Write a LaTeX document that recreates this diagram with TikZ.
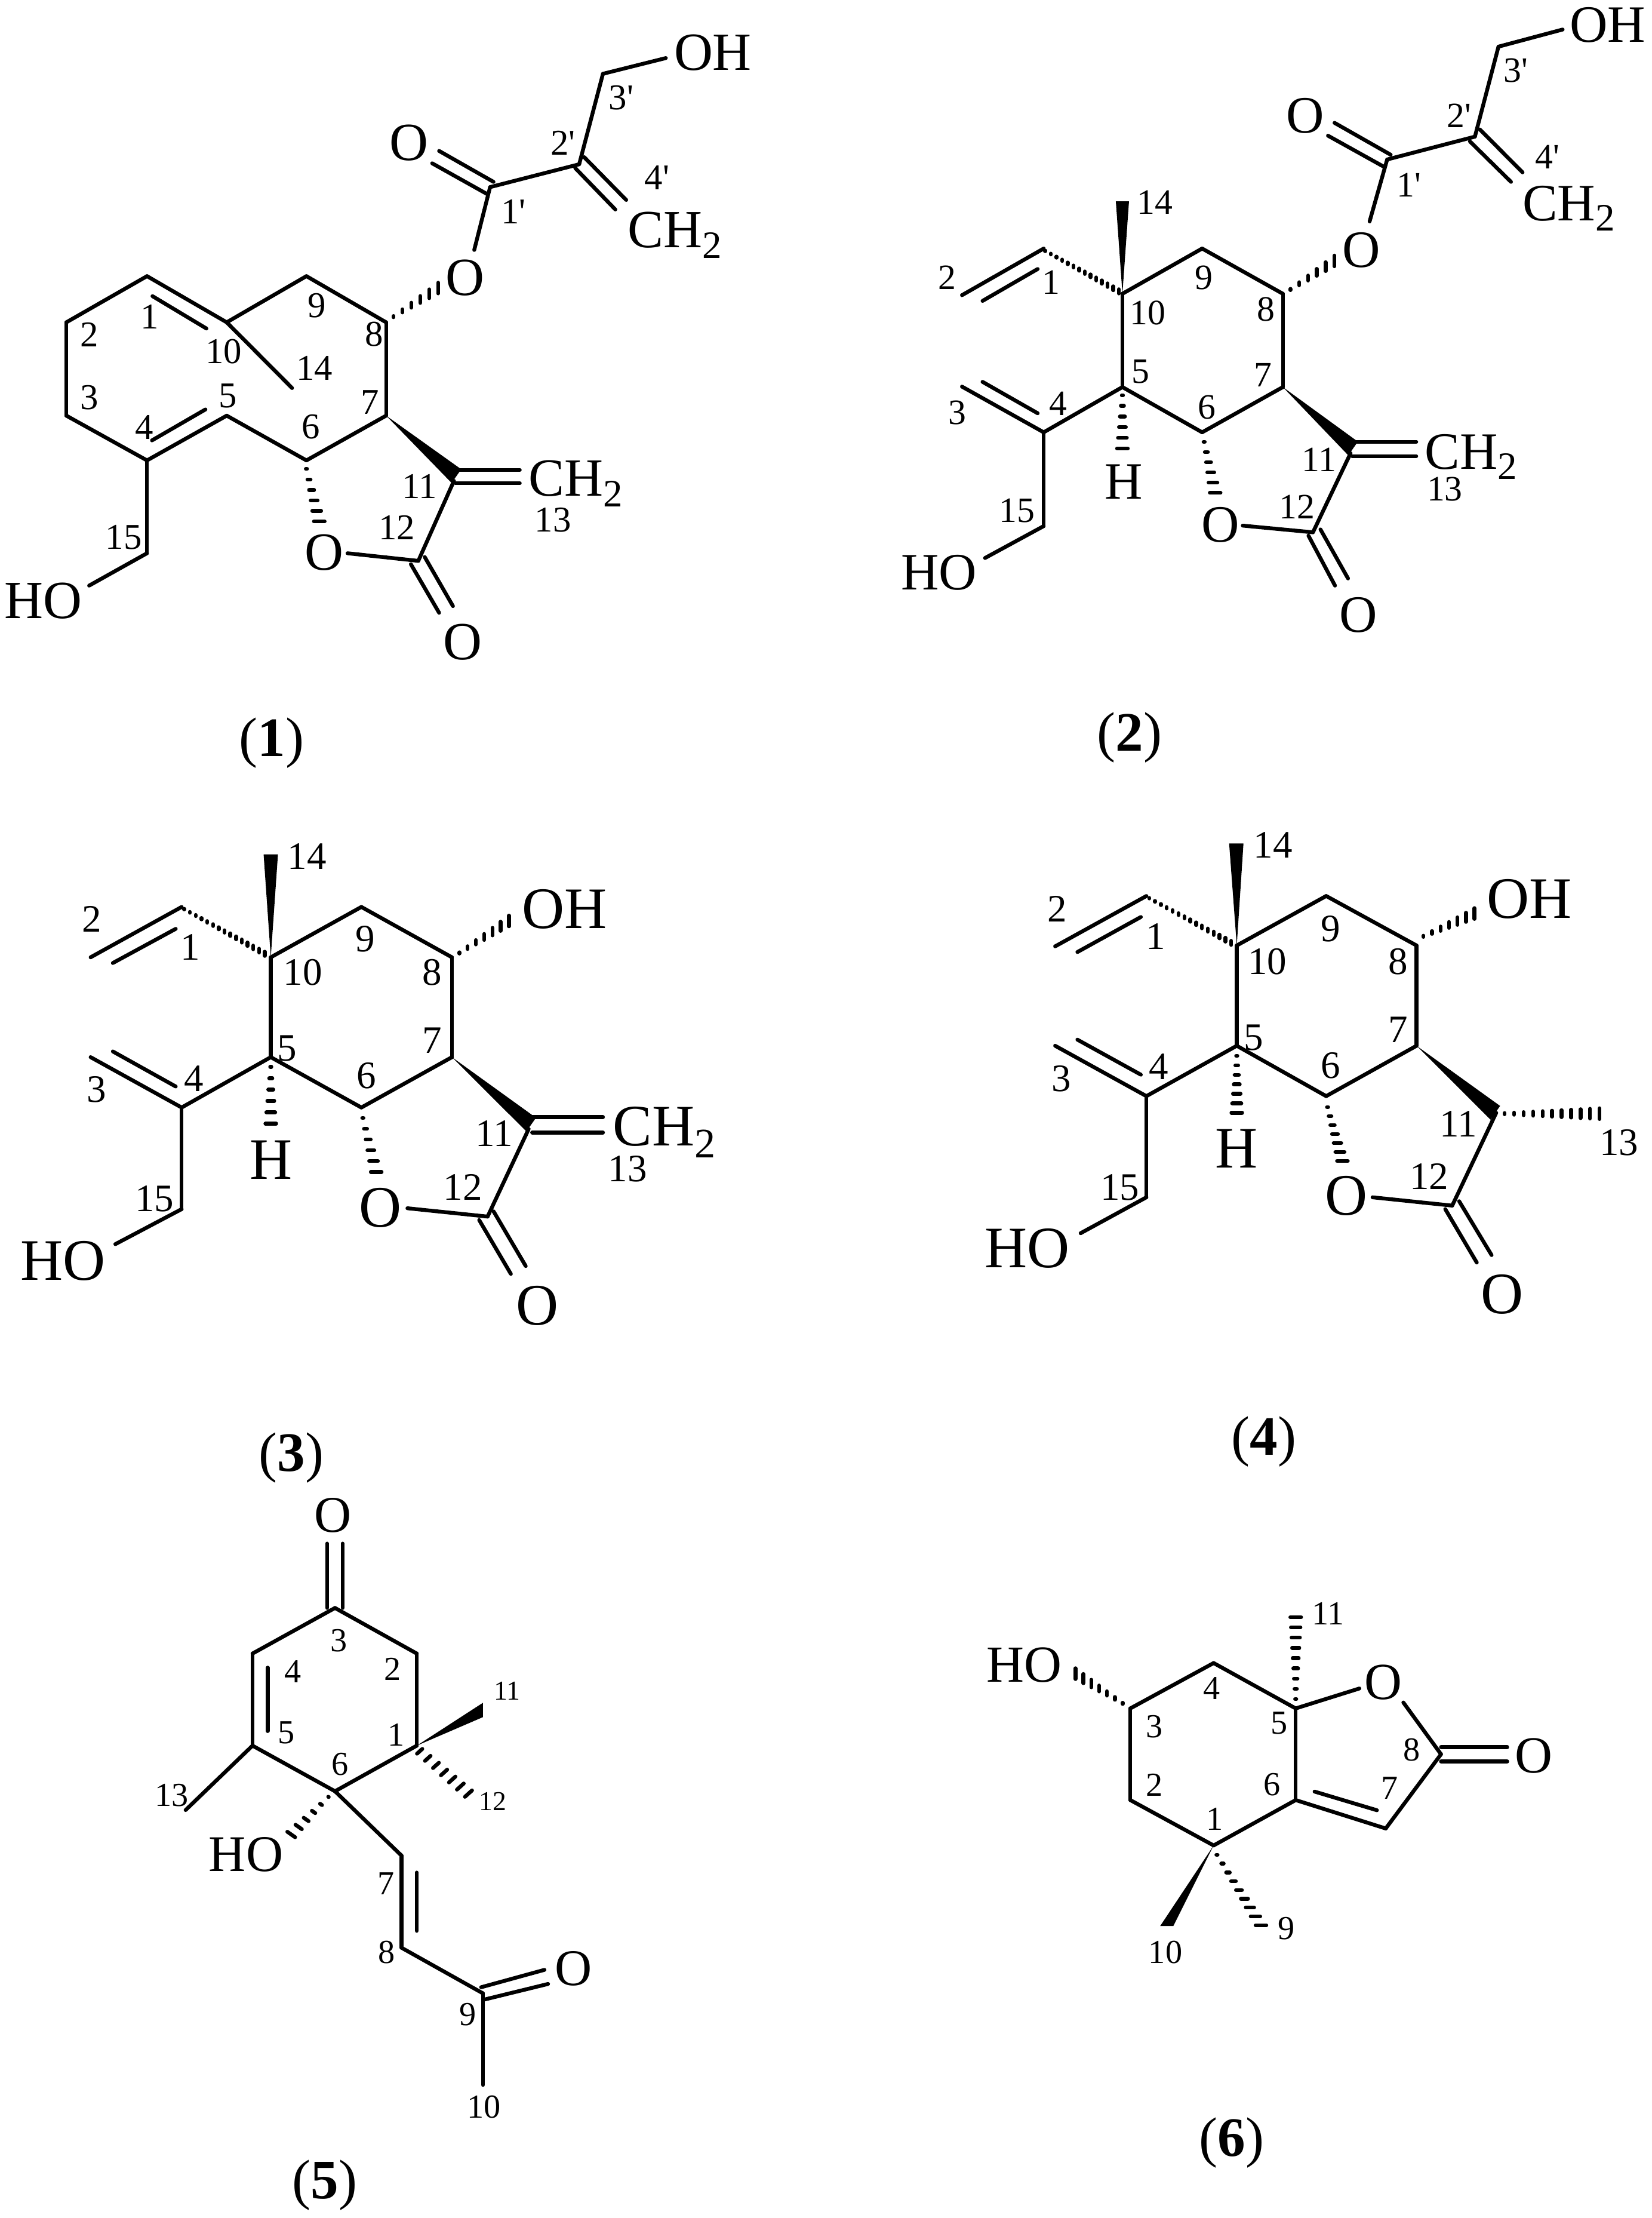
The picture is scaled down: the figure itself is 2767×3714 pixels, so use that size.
\documentclass[tikz,border=0pt]{standalone}
\usepackage{fontspec}
\usetikzlibrary{calc}
\newfontfamily\chemfont{Liberation Serif}
\def\atomsize{25.6}
\def\labsize{17.3}
\newcommand{\chtwo}{CH\raisebox{-0.2em}{\fontsize{\atomsubsize}{\atomsubsize}\selectfont 2}}
\def\atomsubsize{18.5}
\tikzset{
  bondline/.style={line width=0.64mm,line cap=round,line join=round,draw=black},
  hashbar/.style={line width=0.64mm,line cap=round,draw=black},
  atomtext/.style={inner sep=0pt,outer sep=0pt,text=black,font=\chemfont\fontsize{\atomsize}{\atomsize}\selectfont},
  numtext/.style={inner sep=0pt,outer sep=0pt,text=black,font=\chemfont\fontsize{\labsize}{\labsize}\selectfont},
  captext/.style={inner sep=0pt,outer sep=0pt,text=black,font=\chemfont\fontsize{\atomsize}{\atomsize}\selectfont},
}
% bonds between named coordinates
\newcommand{\pts}[1]{\foreach \n/\xx/\yy in {#1} {\coordinate (\pre\n) at (\xx,\yy);}}
\newcommand{\bonds}[1]{\foreach \p/\q in {#1} {\draw[bondline] (\pre\p) -- (\pre\q);}}
% hashed wedge: from, to, bars, half width start (px), half width end (px), bar angle
\newcommand{\hashw}[6]{%
  \foreach \i in {1,...,#3} {%
    \pgfmathsetmacro{\t}{(\i-1)/(#3-1)}%
    \pgfmathsetmacro{\w}{(#4+(#5-#4)*\t)*0.2845}%
    \draw[hashbar] ($(\pre#1)!\t!(\pre#2)+(#6:\w pt)$) -- ($(\pre#1)!\t!(\pre#2)+({#6+180}:\w pt)$);
  }}
% solid wedge: narrow end, wide end, half width (px), angle of wide edge
\newcommand{\solidw}[4]{%
  \pgfmathsetmacro{\w}{#3*0.2845}%
  \fill[black] (\pre#1) -- ($(\pre#2)+(#4:\w pt)$) -- ($(\pre#2)+({#4+180}:\w pt)$) -- cycle;}
% labels
\newcommand{\nums}[1]{\foreach \n/\xx/\yy in {#1} {\node[numtext] (\pre n\n) at (\xx,\yy) {\n};}}
\begin{document}
\begin{tikzpicture}[x=0.1mm,y=-0.1mm]
\useasboundingbox (0,0) rectangle (2767,3714);
\fill[white] (0,0) rectangle (2767,3714);

%%%%%%%% Compound 1
\begin{scope}[x=0.08292mm,y=-0.07972mm]
\def\pre{a}
\def\atomsize{25.6}\def\labsize{17.3}
\pts{c1/297/580,c2/134/677,c3/134/873,c4/297/967,c5/458/873,c10/458/677,c9/619/580,c8/780/677,c7/780/873,c6/619/967,
 i5a/307/925,i5b/415/860,i1a/308/622,i1b/417/690,m14/590/815,c15/297/1162,oh15/180/1230,
 h6a/619/985,h6b/645/1095,o1r/702/1162,c12/845/1178,d1a/830/1185,d1b/887/1287,d2a/858/1170,d2b/915/1273,c11/917/1010,w11/922/1000,
 e1a/920/987,e1b/1050/987,e2a/920/1015,e2b/1050/1015,h8a/795/665,h8b/885/605,oe1/958/525,cp1/990/393,
 f1a/887/317,f1b/997/382,f2a/873/343,f2b/983/407,cp2/1170/345,g1a/1180/330,g1b/1265/420,g2a/1162/353,g2b/1243/440,cp3/1218/155,ohp/1345/122}
\bonds{c1/c2,c2/c3,c3/c4,c4/c5,i5a/i5b,c5/c6,c6/c7,c7/c8,c8/c9,c9/c10,c10/c1,i1a/i1b,c10/m14,c4/c15,c15/oh15,o1r/c12,d1a/d1b,d2a/d2b,c12/c11,e1a/e1b,e2a/e2b,oe1/cp1,f1a/f1b,f2a/f2b,cp1/cp2,g1a/g1b,g2a/g2b,cp2/cp3,cp3/ohp}
\hashw{h6a}{h6b}{6}{1}{9}{0}
\hashw{h8a}{h8b}{6}{1}{9}{90}
\solidw{c7}{w11}{14}{55}
\node[atomtext] (aHO) at (88,1262) {HO};
\node[atomtext] (aO1) at (655,1160) {O};
\node[atomtext] (aO2) at (935,1348) {O};
\node[atomtext] (aO3) at (940,583) {O};
\node[atomtext] (aO4) at (826,300) {O};
\node[atomtext] (aOH) at (1440,110) {OH};
\node[atomtext,anchor=base west] (aCa) at (1068,1042) {\chtwo};
\node[atomtext,anchor=base west] (aCb) at (1268,520) {\chtwo};
\nums{1/302/665,2/180/703,3/180/835,4/292/898,5/460/832,6/628/897,7/747/845,8/756/702,9/640/642,10/452/738,11/847/1022,12/802/1108,13/1117/1092,14/635/773,15/250/1128,1'/1037/445,2'/1137/300,3'/1255/205,4'/1327/373}
\end{scope}

%%%%%%%% Compound 2
\begin{scope}[shift={(145mm,0mm)},x=0.08399mm,y=-0.07972mm]
\def\pre{b}
\def\atomsize{25}\def\labsize{17}
\pts{c10/512/617,c9/671/522,c8/832/617,c7/832/813,c6/671/908,c5/512/813,c1/355/522,c2/192/620,i1a/233/632,i1b/343/565,
 hh1/358/527,hh2/505/612,m14/512/423,h5a/512/830,h5b/512/942,c4/355/908,c3/192/812,i3a/233/802,i3b/343/868,c15/355/1105,oh15/238/1172,
 h6a/675/928,h6b/697/1035,o1r/752/1104,c12/892/1118,d1a/883/1125,d1b/936/1230,d2a/907/1112,d2b/962/1215,c11/967/952,w11/972/942,
 e1a/970/928,e1b/1098/928,e2a/970/958,e2b/1098/958,h8a/847/608,h8b/935/548,oe1/1005/465,cp1/1040/335,
 f1a/935/258,f1b/1047/325,f2a/922/285,f2b/1033/350,cp2/1215/287,g1a/1225/272,g1b/1310/362,g2a/1205/297,g2b/1287/382,cp3/1262/98,ohp/1390/62}
\bonds{c10/c9,c9/c8,c8/c7,c7/c6,c6/c5,c5/c10,c1/c2,i1a/i1b,c5/c4,c4/c3,i3a/i3b,c4/c15,c15/oh15,o1r/c12,d1a/d1b,d2a/d2b,c12/c11,e1a/e1b,e2a/e2b,oe1/cp1,f1a/f1b,f2a/f2b,cp1/cp2,g1a/g1b,g2a/g2b,cp2/cp3,cp3/ohp}
\hashw{hh1}{hh2}{14}{0.5}{3.5}{90}
\solidw{c10}{m14}{11}{0}
\hashw{h5a}{h5b}{6}{1}{9}{0}
\hashw{h6a}{h6b}{6}{1}{9}{0}
\hashw{h8a}{h8b}{6}{1}{9}{90}
\solidw{c7}{w11}{14}{55}
\node[atomtext] (bHO) at (146,1203) {HO};
\node[atomtext] (bH) at (515,1012) {H};
\node[atomtext] (bO1) at (708,1102) {O};
\node[atomtext] (bO2) at (983,1292) {O};
\node[atomtext] (bO3) at (988,525) {O};
\node[atomtext] (bO4) at (877,243) {O};
\node[atomtext] (bOH) at (1480,52) {OH};
\node[atomtext,anchor=base west] (bCa) at (1115,985) {\chtwo};
\node[atomtext,anchor=base west] (bCb) at (1310,463) {\chtwo};
\nums{1/370/593,2/162/583,3/183/867,4/384/848,5/548/780,6/680/855,7/792/788,8/798/650,9/674/583,10/563/657,11/904/965,12/860/1065,13/1155/1027,14/577/425,15/302/1072,1'/1083/388,2'/1183/243,3'/1297/148,4'/1360/330}
\end{scope}

%%%%%%%% Compound 3
\begin{scope}[shift={(0mm,-135mm)},x=0.08292mm,y=-0.07334mm]
\def\pre{d}
\def\atomsize{28}\def\labsize{18.5}\def\atomsubsize{20}
\pts{c10/547/345,c9/730/230,c8/913/345,c7/913/573,c6/730/688,c5/547/573,c1/367/230,c2/183/345,i1a/228/358,i1b/355/280,
 hh1/372/235,hh2/535/337,m14/547/110,h5a/547/595,h5b/547/725,c4/367/688,c3/183/573,i3a/228/560,i3b/355/640,c15/367/920,oh15/233/1000,
 h6a/733/712,h6b/760/835,o1r/823/918,c12/985/937,d1a/968/945,d1b/1032/1068,d2a/997/925,d2b/1062/1050,c11/1068/737,w11/1073/727,
 e1a/1075/710,e1b/1218/710,e2a/1075/745,e2b/1218/745,h8a/928/335,h8b/1028/262}
\bonds{c10/c9,c9/c8,c8/c7,c7/c6,c6/c5,c5/c10,c1/c2,i1a/i1b,c5/c4,c4/c3,i3a/i3b,c4/c15,c15/oh15,o1r/c12,d1a/d1b,d2a/d2b,c12/c11,e1a/e1b,e2a/e2b}
\hashw{hh1}{hh2}{15}{0.5}{3.5}{90}
\solidw{c10}{m14}{12}{0}
\hashw{h5a}{h5b}{6}{1}{9}{0}
\hashw{h6a}{h6b}{6}{1}{9}{0}
\hashw{h8a}{h8b}{7}{1}{9}{90}
\solidw{c7}{w11}{14}{55}
\node[atomtext] (dHO) at (127,1038) {HO};
\node[atomtext] (dH) at (547,808) {H};
\node[atomtext] (dO1) at (768,917) {O};
\node[atomtext] (dO2) at (1085,1140) {O};
\node[atomtext] (dOH) at (1140,235) {OH};
\node[atomtext,anchor=base west] (dCa) at (1238,775) {\chtwo};
\nums{1/385/322,2/186/258,3/195/647,4/392/622,5/580/553,6/740/615,7/873/535,8/873/380,9/738/303,10/612/380,11/998/748,12/935/870,13/1268/828,14/620/115,15/312/897}
\end{scope}

%%%%%%%% Compound 4
\begin{scope}[shift={(155mm,-135mm)},x=0.07761mm,y=-0.07334mm]
\def\pre{f}
\def\atomsize{28}\def\labsize{18.5}
\pts{c10/672/318,c9/865/205,c8/1060/318,c7/1060/547,c6/865/662,c5/672/547,c1/477/205,c2/280/320,i1a/328/333,i1b/465/253,
 hh1/483/210,hh2/660/312,m14/671/85,h5a/672/570,h5b/672/700,c4/477/662,c3/280/547,i3a/328/533,i3b/465/613,c15/477/893,oh15/335/975,
 h6a/868/687,h6b/900/810,o1r/965/893,c12/1137/912,d1a/1122/920,d1b/1190/1042,d2a/1152/902,d2b/1222/1025,c11/1232/700,w11/1230/700,
 h11a/1250/702,h11b/1455/702,h8a/1075/297,h8b/1185/245}
\bonds{c10/c9,c9/c8,c8/c7,c7/c6,c6/c5,c5/c10,c1/c2,i1a/i1b,c5/c4,c4/c3,i3a/i3b,c4/c15,c15/oh15,o1r/c12,d1a/d1b,d2a/d2b,c12/c11}
\hashw{hh1}{hh2}{15}{0.5}{3.5}{90}
\solidw{c10}{m14}{12}{0}
\hashw{h5a}{h5b}{7}{1}{9}{0}
\hashw{h6a}{h6b}{7}{1}{9}{0}
\hashw{h8a}{h8b}{7}{1}{9}{90}
\hashw{h11a}{h11b}{11}{1}{9}{90}
\solidw{c7}{w11}{14}{55}
\node[atomtext] (fHO) at (220,1010) {HO};
\node[atomtext] (fH) at (672,782) {H};
\node[atomtext] (fO1) at (908,890) {O};
\node[atomtext] (fO2) at (1245,1115) {O};
\node[atomtext] (fOH) at (1303,212) {OH};
\nums{1/497/297,2/285/235,3/293/622,4/503/595,5/708/528,6/875/592,7/1020/510,8/1020/355,9/875/280,10/738/355,11/1150/725,12/1087/845,13/1497/768,14/750/88,15/420/870}
\end{scope}

%%%%%%%% Compound 5
\begin{scope}[shift={(20mm,-248mm)},x=0.06059mm,y=-0.0787mm]
\def\pre{g}
\def\atomsize{24.5}\def\labsize{16}
\pts{c3/596/270,c2/822/367,c1/822/563,c6/596/660,c5/368/563,c4/368/367,oa/574/270,ob/574/133,oc/617/270,od/617/133,i4a/410/397,i4b/410/532,
 m13/183/700,m11/1005/487,h1a/830/575,h1b/965/665,h6a/578/672,h6b/475/752,c7/780/797,c8/780/993,i7a/822/833,i7b/822/957,c9/1005/1090,
 d1a/1000/1077,d1b/1175/1040,d2a/1010/1103,d2b/1185/1070,m10/1005/1285}
\bonds{c3/c2,c2/c1,c1/c6,c6/c5,c5/c4,c4/c3,oa/ob,oc/od,i4a/i4b,c5/m13,c6/c7,c7/c8,i7a/i7b,c8/c9,d1a/d1b,d2a/d2b,c9/m10}
\solidw{c1}{m11}{12}{90}
\hashw{h1a}{h1b}{7}{6}{8}{42}
\hashw{h6a}{h6b}{6}{0.5}{8}{-35}
\node[atomtext] (gO1) at (590,73) {O};
\node[atomtext] (gHO) at (350,795) {HO};
\node[atomtext] (gO2) at (1255,1038) {O};
\nums{3/607/340,2/755/400,4/480/405,5/462/535,1/765/540,6/610/603,7/737/857,8/738/1003,9/963/1135,10/1008/1332,13/145/668}
\def\labsize{13}
\nums{11/1072/447,12/1032/682}
\end{scope}

%%%%%%%% Compound 6
\begin{scope}[shift={(160mm,-260mm)},x=0.07015mm,y=-0.07105mm]
\def\pre{k}
\def\atomsize{24.8}\def\labsize{16}
\pts{c3/418/367,c4/617/260,c5/813/367,c6/813/583,c1/617/690,c2/418/583,oa/965/320,ob/1070/353,c8/1160/475,d1a/1160/458,d1b/1318/458,d2a/1160/492,d2b/1318/492,
 c7/1028/650,i7a/858/563,i7b/1007/607,h5a/813/345,h5b/813/152,h3a/400/355,h3b/287/285,m10/505/880,h1a/625/712,h1b/730/878}
\bonds{c3/c4,c4/c5,c5/c6,c6/c1,c1/c2,c2/c3,c5/oa,ob/c8,d1a/d1b,d2a/d2b,c8/c7,c7/c6,i7a/i7b}
\hashw{h5a}{h5b}{9}{1}{9}{0}
\hashw{h3a}{h3b}{7}{1}{9}{90}
\hashw{h1a}{h1b}{9}{1}{9}{0}
\solidw{c1}{m10}{11}{0}
\node[atomtext] (kHO) at (165,265) {HO};
\node[atomtext] (kO1) at (1022,305) {O};
\node[atomtext] (kO2) at (1382,478) {O};
\nums{9/790/885,10/502/942,11/890/143,1/620/628,2/475/547,3/475/410,4/612/320,5/773/402,6/757/547,7/1037/555,8/1090/465}
\end{scope}

%%%%%%%% Captions
\def\atomsize{26.5}
\node[captext] (cap1) at (455,1244) {(\textbf{1})};
\node[captext] (cap2) at (1892,1235) {(\textbf{2})};
\node[captext] (cap3) at (488,2441) {(\textbf{3})};
\node[captext] (cap4) at (2117,2414) {(\textbf{4})};
\node[captext] (cap5) at (544,3659) {(\textbf{5})};
\node[captext] (cap6) at (2063,3588) {(\textbf{6})};
\end{tikzpicture}
\end{document}
